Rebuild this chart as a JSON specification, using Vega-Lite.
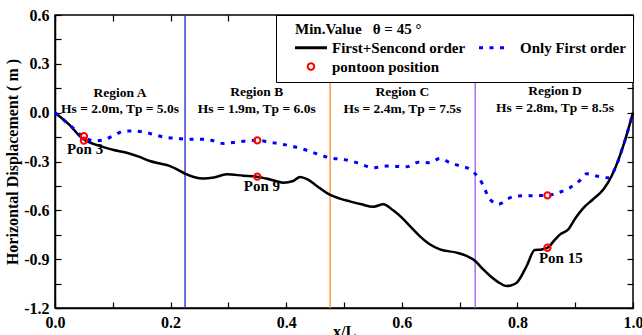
{
  "$schema": "https://vega.github.io/schema/vega-lite/v6.json",
  "width": 578,
  "height": 293,
  "autosize": {"type": "none"},
  "padding": {"left": 55, "top": 15, "right": 9, "bottom": 27},
  "config": {
    "font": "Liberation Serif",
    "view": {"stroke": "black", "strokeWidth": 1.5},
    "axis": {
      "domainColor": "black", "domainWidth": 1.5, "tickColor": "black", "tickWidth": 1.2,
      "labelColor": "black", "labelFont": "Liberation Serif", "labelFontSize": 16, "labelFontWeight": "bold",
      "titleFont": "Liberation Serif", "titleFontSize": 16, "titleFontWeight": "bold", "titleColor": "black",
      "grid": false
    }
  },
  "datasets": {
    "lines": [
      {"x": 0.000, "y": 0.000, "series": "First+Sencond order"},
      {"x": 0.025, "y": -0.075, "series": "First+Sencond order"},
      {"x": 0.046, "y": -0.155, "series": "First+Sencond order"},
      {"x": 0.065, "y": -0.190, "series": "First+Sencond order"},
      {"x": 0.078, "y": -0.205, "series": "First+Sencond order"},
      {"x": 0.100, "y": -0.228, "series": "First+Sencond order"},
      {"x": 0.124, "y": -0.246, "series": "First+Sencond order"},
      {"x": 0.145, "y": -0.270, "series": "First+Sencond order"},
      {"x": 0.164, "y": -0.297, "series": "First+Sencond order"},
      {"x": 0.185, "y": -0.315, "series": "First+Sencond order"},
      {"x": 0.199, "y": -0.328, "series": "First+Sencond order"},
      {"x": 0.212, "y": -0.350, "series": "First+Sencond order"},
      {"x": 0.225, "y": -0.375, "series": "First+Sencond order"},
      {"x": 0.240, "y": -0.395, "series": "First+Sencond order"},
      {"x": 0.257, "y": -0.405, "series": "First+Sencond order"},
      {"x": 0.275, "y": -0.398, "series": "First+Sencond order"},
      {"x": 0.297, "y": -0.379, "series": "First+Sencond order"},
      {"x": 0.326, "y": -0.387, "series": "First+Sencond order"},
      {"x": 0.349, "y": -0.393, "series": "First+Sencond order"},
      {"x": 0.372, "y": -0.410, "series": "First+Sencond order"},
      {"x": 0.395, "y": -0.430, "series": "First+Sencond order"},
      {"x": 0.412, "y": -0.420, "series": "First+Sencond order"},
      {"x": 0.424, "y": -0.395, "series": "First+Sencond order"},
      {"x": 0.437, "y": -0.410, "series": "First+Sencond order"},
      {"x": 0.453, "y": -0.450, "series": "First+Sencond order"},
      {"x": 0.476, "y": -0.505, "series": "First+Sencond order"},
      {"x": 0.493, "y": -0.528, "series": "First+Sencond order"},
      {"x": 0.510, "y": -0.545, "series": "First+Sencond order"},
      {"x": 0.530, "y": -0.563, "series": "First+Sencond order"},
      {"x": 0.551, "y": -0.578, "series": "First+Sencond order"},
      {"x": 0.568, "y": -0.563, "series": "First+Sencond order"},
      {"x": 0.585, "y": -0.600, "series": "First+Sencond order"},
      {"x": 0.600, "y": -0.645, "series": "First+Sencond order"},
      {"x": 0.615, "y": -0.700, "series": "First+Sencond order"},
      {"x": 0.631, "y": -0.758, "series": "First+Sencond order"},
      {"x": 0.649, "y": -0.810, "series": "First+Sencond order"},
      {"x": 0.666, "y": -0.840, "series": "First+Sencond order"},
      {"x": 0.695, "y": -0.860, "series": "First+Sencond order"},
      {"x": 0.712, "y": -0.880, "series": "First+Sencond order"},
      {"x": 0.727, "y": -0.911, "series": "First+Sencond order"},
      {"x": 0.740, "y": -0.960, "series": "First+Sencond order"},
      {"x": 0.753, "y": -1.003, "series": "First+Sencond order"},
      {"x": 0.770, "y": -1.048, "series": "First+Sencond order"},
      {"x": 0.781, "y": -1.065, "series": "First+Sencond order"},
      {"x": 0.790, "y": -1.060, "series": "First+Sencond order"},
      {"x": 0.799, "y": -1.044, "series": "First+Sencond order"},
      {"x": 0.816, "y": -0.942, "series": "First+Sencond order"},
      {"x": 0.830, "y": -0.843, "series": "First+Sencond order"},
      {"x": 0.842, "y": -0.840, "series": "First+Sencond order"},
      {"x": 0.852, "y": -0.830, "series": "First+Sencond order"},
      {"x": 0.865, "y": -0.780, "series": "First+Sencond order"},
      {"x": 0.874, "y": -0.748, "series": "First+Sencond order"},
      {"x": 0.888, "y": -0.717, "series": "First+Sencond order"},
      {"x": 0.900, "y": -0.650, "series": "First+Sencond order"},
      {"x": 0.914, "y": -0.586, "series": "First+Sencond order"},
      {"x": 0.931, "y": -0.532, "series": "First+Sencond order"},
      {"x": 0.949, "y": -0.471, "series": "First+Sencond order"},
      {"x": 0.963, "y": -0.389, "series": "First+Sencond order"},
      {"x": 0.983, "y": -0.205, "series": "First+Sencond order"},
      {"x": 1.000, "y": 0.000, "series": "First+Sencond order"},
      {"x": 0.000, "y": 0.000, "series": "Only First order"},
      {"x": 0.025, "y": -0.075, "series": "Only First order"},
      {"x": 0.050, "y": -0.150, "series": "Only First order"},
      {"x": 0.069, "y": -0.174, "series": "Only First order"},
      {"x": 0.087, "y": -0.164, "series": "Only First order"},
      {"x": 0.100, "y": -0.143, "series": "Only First order"},
      {"x": 0.121, "y": -0.113, "series": "Only First order"},
      {"x": 0.138, "y": -0.113, "series": "Only First order"},
      {"x": 0.159, "y": -0.123, "series": "Only First order"},
      {"x": 0.176, "y": -0.140, "series": "Only First order"},
      {"x": 0.196, "y": -0.154, "series": "Only First order"},
      {"x": 0.213, "y": -0.158, "series": "Only First order"},
      {"x": 0.228, "y": -0.164, "series": "Only First order"},
      {"x": 0.262, "y": -0.164, "series": "Only First order"},
      {"x": 0.291, "y": -0.189, "series": "Only First order"},
      {"x": 0.320, "y": -0.178, "series": "Only First order"},
      {"x": 0.350, "y": -0.170, "series": "Only First order"},
      {"x": 0.372, "y": -0.182, "series": "Only First order"},
      {"x": 0.395, "y": -0.195, "series": "Only First order"},
      {"x": 0.430, "y": -0.225, "series": "Only First order"},
      {"x": 0.455, "y": -0.255, "series": "Only First order"},
      {"x": 0.476, "y": -0.278, "series": "Only First order"},
      {"x": 0.499, "y": -0.287, "series": "Only First order"},
      {"x": 0.522, "y": -0.307, "series": "Only First order"},
      {"x": 0.551, "y": -0.338, "series": "Only First order"},
      {"x": 0.574, "y": -0.328, "series": "Only First order"},
      {"x": 0.608, "y": -0.332, "series": "Only First order"},
      {"x": 0.631, "y": -0.303, "series": "Only First order"},
      {"x": 0.649, "y": -0.307, "series": "Only First order"},
      {"x": 0.666, "y": -0.281, "series": "Only First order"},
      {"x": 0.683, "y": -0.307, "series": "Only First order"},
      {"x": 0.701, "y": -0.328, "series": "Only First order"},
      {"x": 0.718, "y": -0.348, "series": "Only First order"},
      {"x": 0.735, "y": -0.410, "series": "Only First order"},
      {"x": 0.753, "y": -0.533, "series": "Only First order"},
      {"x": 0.767, "y": -0.563, "series": "Only First order"},
      {"x": 0.783, "y": -0.530, "series": "Only First order"},
      {"x": 0.799, "y": -0.512, "series": "Only First order"},
      {"x": 0.826, "y": -0.510, "series": "Only First order"},
      {"x": 0.852, "y": -0.508, "series": "Only First order"},
      {"x": 0.872, "y": -0.490, "series": "Only First order"},
      {"x": 0.891, "y": -0.461, "series": "Only First order"},
      {"x": 0.907, "y": -0.420, "series": "Only First order"},
      {"x": 0.920, "y": -0.375, "series": "Only First order"},
      {"x": 0.937, "y": -0.389, "series": "Only First order"},
      {"x": 0.957, "y": -0.400, "series": "Only First order"},
      {"x": 0.965, "y": -0.370, "series": "Only First order"},
      {"x": 0.983, "y": -0.205, "series": "Only First order"},
      {"x": 1.000, "y": 0.000, "series": "Only First order"}
    ],
    "pontoons": [
      {"x": 0.050, "y": -0.145, "series": "pontoon position"},
      {"x": 0.050, "y": -0.172, "series": "pontoon position"},
      {"x": 0.350, "y": -0.170, "series": "pontoon position"},
      {"x": 0.350, "y": -0.393, "series": "pontoon position"},
      {"x": 0.852, "y": -0.508, "series": "pontoon position"},
      {"x": 0.852, "y": -0.830, "series": "pontoon position"}
    ],
    "bounds": [
      {"x": 0.225, "b": "A|B"},
      {"x": 0.476, "b": "B|C"},
      {"x": 0.727, "b": "C|D"}
    ],
    "regions": [
      {"x": 0.1125, "y": 0.123, "text": "Region A"},
      {"x": 0.1125, "y": 0.020, "text": "Hs = 2.0m, Tp = 5.0s"},
      {"x": 0.349, "y": 0.128, "text": "Region B"},
      {"x": 0.349, "y": 0.020, "text": "Hs = 1.9m, Tp = 6.0s"},
      {"x": 0.601, "y": 0.128, "text": "Region C"},
      {"x": 0.601, "y": 0.022, "text": "Hs = 2.4m, Tp = 7.5s"},
      {"x": 0.865, "y": 0.133, "text": "Region D"},
      {"x": 0.865, "y": 0.026, "text": "Hs = 2.8m, Tp = 8.5s"}
    ],
    "pons": [
      {"x": 0.052, "y": -0.225, "text": "Pon 3"},
      {"x": 0.358, "y": -0.451, "text": "Pon 9"},
      {"x": 0.875, "y": -0.891, "text": "Pon 15"}
    ]
  },
  "layer": [
    {
      "data": {"name": "bounds"},
      "mark": {"type": "rule", "strokeWidth": 1.5},
      "encoding": {
        "x": {"field": "x", "type": "quantitative", "scale": {"domain": [0, 1], "nice": false}, "axis": null},
        "stroke": {"field": "b", "type": "nominal", "scale": {"domain": ["A|B", "B|C", "C|D"], "range": ["#3b3bd0", "#ff9a3c", "#a872f0"]}, "legend": null}
      }
    },
    {
      "data": {"name": "lines"},
      "transform": [{"filter": "datum.series === 'First+Sencond order'"}],
      "mark": {"type": "line", "strokeWidth": 2.5, "interpolate": "monotone"},
      "encoding": {
        "x": {
          "field": "x", "type": "quantitative", "scale": {"domain": [0, 1], "nice": false},
          "axis": {
            "title": "x/L", "orient": "bottom", "titleBaseline": "top", "titleY": 15,
            "values": [0, 0.1, 0.2, 0.3, 0.4, 0.5, 0.6, 0.7, 0.8, 0.9, 1.0],
            "labelExpr": "round(datum.value*10) % 2 === 0 ? format(datum.value, '.1f') : ''",
            "tickSize": -6, "labelPadding": 12, "labelFlush": false,
            "encode": {
              "ticks": {"update": {"y2": {"signal": "round(datum.value*10) % 2 === 0 ? -6 : -3.5"}}},
              "labels": {"update": {"font": {"value": "Liberation Serif"}, "fontWeight": {"value": "bold"}, "fontSize": {"value": 16}, "fill": {"value": "black"}}},
              "title": {"update": {"font": {"value": "Liberation Serif"}, "fontWeight": {"value": "bold"}, "fontSize": {"value": 16}, "fill": {"value": "black"}}}
            }
          }
        },
        "y": {
          "field": "y", "type": "quantitative", "scale": {"domain": [-1.2, 0.6], "nice": false},
          "axis": {
            "title": "Horizontal Displacement ( m )", "titlePadding": 3, "orient": "left",
            "values": [-1.2, -1.05, -0.9, -0.75, -0.6, -0.45, -0.3, -0.15, 0, 0.15, 0.3, 0.45, 0.6],
            "labelExpr": "round(datum.value/0.15) % 2 === 0 ? replace(format(datum.value, '.1f'), '\u2212', '-') : ''",
            "tickSize": -6, "labelPadding": 12, "labelFlush": false,
            "encode": {
              "ticks": {"update": {"x2": {"signal": "round(datum.value/0.15) % 2 === 0 ? 6 : 3.5"}}},
              "labels": {"update": {"font": {"value": "Liberation Serif"}, "fontWeight": {"value": "bold"}, "fontSize": {"value": 16}, "fill": {"value": "black"}}},
              "title": {"update": {"font": {"value": "Liberation Serif"}, "fontWeight": {"value": "bold"}, "fontSize": {"value": 16}, "fill": {"value": "black"}}}
            }
          }
        },
        "color": {
          "field": "series", "type": "nominal",
          "scale": {"domain": ["First+Sencond order", "Only First order", "pontoon position"], "range": ["black", "#0000ff", "red"]},
          "legend": {
            "orient": "top-right", "offset": 0, "direction": "horizontal",
            "title": "Min.Value\u00a0\u00a0 θ = 45 °",
            "columns": 2, "columnPadding": 0, "rowPadding": 3, "padding": 7, "titlePadding": 3,
            "fillColor": "white", "strokeColor": "black",
            "titleFont": "Liberation Serif", "titleFontSize": 15, "titleFontWeight": "bold", "titleColor": "black",
            "labelFont": "Liberation Serif", "labelFontSize": 15, "labelFontWeight": "bold", "labelColor": "black",
            "symbolSize": 100,
            "encode": {
              "title": {"update": {"dx": {"value": 12}}},
              "symbols": {"update": {
                "shape": {"signal": "datum.value === 'pontoon position' ? 'M0.65,0A0.65,0.65,0,1,1,-0.65,0A0.65,0.65,0,1,1,0.65,0Z' : (datum.value === 'Only First order' ? 'M-2.6,0L2.6,0' : 'M-3.2,0L3.2,0')"},
                "size": {"value": 100},
                "strokeDash": {"signal": "datum.value === 'Only First order' ? [4, 6.5] : [1, 0]"},
                "strokeWidth": {"signal": "datum.value === 'pontoon position' ? 2 : 3"},
                "fill": {"value": "transparent"},
                "x": {"signal": "datum.value === 'Only First order' ? 26 : 28"}
              }},
              "labels": {"update": {
                "x": {"signal": "datum.value === 'Only First order' ? 54 : 49"}
              }}
            }
          }
        }
      }
    },
    {
      "data": {"name": "lines"},
      "transform": [{"filter": "datum.series === 'Only First order'"}],
      "mark": {"type": "line", "strokeWidth": 3, "strokeDash": [4, 6.5], "interpolate": "monotone"},
      "encoding": {
        "x": {
          "field": "x", "type": "quantitative", "scale": {"domain": [0, 1], "nice": false},
          "axis": {
            "orient": "top", "title": null, "labels": false, "domain": false,
            "values": [0, 0.1, 0.2, 0.3, 0.4, 0.5, 0.6, 0.7, 0.8, 0.9, 1.0],
            "tickSize": -6,
            "encode": {"ticks": {"update": {"y2": {"signal": "round(datum.value*10) % 2 === 0 ? 6 : 3.5"}}}}
          }
        },
        "y": {
          "field": "y", "type": "quantitative", "scale": {"domain": [-1.2, 0.6], "nice": false},
          "axis": {
            "orient": "right", "title": null, "labels": false, "domain": false,
            "values": [-1.2, -1.05, -0.9, -0.75, -0.6, -0.45, -0.3, -0.15, 0, 0.15, 0.3, 0.45, 0.6],
            "tickSize": -6,
            "encode": {"ticks": {"update": {"x2": {"signal": "round(datum.value/0.15) % 2 === 0 ? -6 : -3.5"}}}}
          }
        },
        "color": {"field": "series", "type": "nominal"}
      }
    },
    {
      "data": {"name": "pontoons"},
      "mark": {"type": "point", "shape": "circle", "filled": false, "strokeWidth": 2, "size": 40, "opacity": 1},
      "encoding": {
        "x": {"field": "x", "type": "quantitative", "axis": null},
        "y": {"field": "y", "type": "quantitative", "axis": null},
        "color": {"field": "series", "type": "nominal"}
      }
    },
    {
      "data": {"name": "regions"},
      "mark": {"type": "text", "font": "Liberation Serif", "fontSize": 13.5, "fontWeight": "bold", "color": "black", "baseline": "middle", "align": "center"},
      "encoding": {
        "x": {"field": "x", "type": "quantitative", "axis": null},
        "y": {"field": "y", "type": "quantitative", "axis": null},
        "text": {"field": "text"}
      }
    },
    {
      "data": {"name": "pons"},
      "mark": {"type": "text", "font": "Liberation Serif", "fontSize": 15, "fontWeight": "bold", "color": "black", "baseline": "middle", "align": "center"},
      "encoding": {
        "x": {"field": "x", "type": "quantitative", "axis": null},
        "y": {"field": "y", "type": "quantitative", "axis": null},
        "text": {"field": "text"}
      }
    }
  ],
  "resolve": {"axis": {"x": "independent", "y": "independent"}}
}
